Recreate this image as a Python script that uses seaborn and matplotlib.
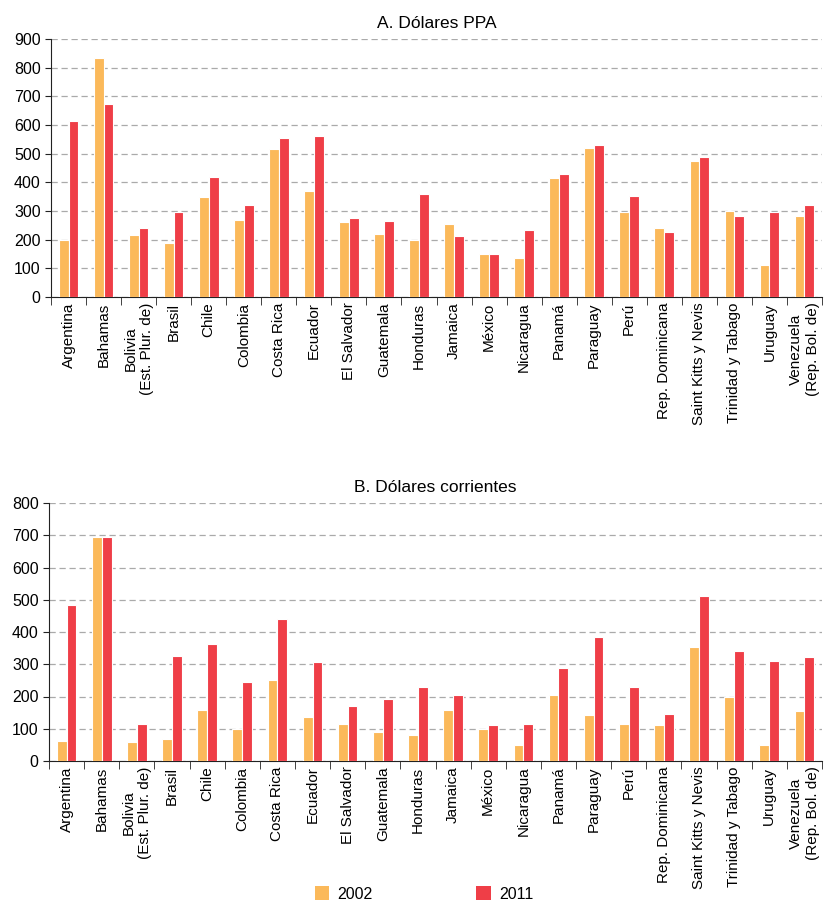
import pandas as pd
import matplotlib.pyplot as plt
import seaborn as sns
from matplotlib.patches import Patch
from matplotlib.ticker import FixedLocator

# Countries (x axis)
paises = ['Argentina', 'Bahamas', 'Bolivia\n(Est. Plur. de)', 'Brasil', 'Chile', 'Colombia',
          'Costa Rica', 'Ecuador', 'El Salvador', 'Guatemala', 'Honduras', 'Jamaica',
          'México', 'Nicaragua', 'Panamá', 'Paraguay', 'Perú', 'Rep. Dominicana',
          'Saint Kitts y Nevis', 'Trinidad y Tabago', 'Uruguay', 'Venezuela\n(Rep. Bol. de)']

# A. Dólares PPA
ppa_2002 = [200, 833, 216, 187, 350, 270, 515, 370, 260, 220, 200, 255,
            150, 135, 415, 520, 295, 240, 474, 300, 110, 284]
ppa_2011 = [614, 674, 240, 295, 420, 321, 555, 560, 275, 265, 359, 214,
            150, 235, 429, 529, 354, 226, 488, 284, 295, 321]

# B. Dólares corrientes
cor_2002 = [63, 694, 58, 67, 158, 98, 250, 136, 115, 89, 80, 158,
            98, 50, 206, 142, 115, 111, 355, 197, 50, 155]
cor_2011 = [485, 694, 115, 325, 363, 246, 441, 306, 172, 193, 228, 206,
            111, 115, 288, 384, 228, 145, 511, 341, 310, 324]

anios = ['2002', '2011']
colores = ['#FBB95A', '#EF3E47']

plt.rcParams['font.family'] = ['Liberation Sans', 'DejaVu Sans']

fig = plt.figure(figsize=(8.24, 9.07), dpi=100)
ax1 = fig.add_axes([51 / 824, 1 - 297 / 907, 771 / 824, 258 / 907])
ax2 = fig.add_axes([49 / 824, 1 - 761 / 907, 773 / 824, 258 / 907])


def panel(ax, v2002, v2011, titulo, ymax):
    df = pd.DataFrame({
        'pais': paises * 2,
        'valor': v2002 + v2011,
        'anio': ['2002'] * len(paises) + ['2011'] * len(paises),
    })
    sns.barplot(data=df, x='pais', y='valor', hue='anio', hue_order=anios,
                palette=colores, saturation=1, width=0.56, edgecolor='white',
                linewidth=0.8, legend=False, ax=ax, zorder=3)
    ax.set_xlim(-0.5, len(paises) - 0.5)
    ax.set_ylim(0, ymax)
    ax.set_yticks(range(0, ymax + 1, 100))
    ax.yaxis.grid(True, linestyle=(0, (5, 3)), color='#aaaaaa', linewidth=0.9, zorder=0)
    ax.set_axisbelow(True)
    ax.set_xlabel('')
    ax.set_ylabel('')
    ax.set_title(titulo, fontsize=12.5, pad=8)
    for s in ['top', 'right']:
        ax.spines[s].set_visible(False)
    ax.spines['left'].set_color('#222222')
    ax.spines['bottom'].set_color('#222222')
    ax.tick_params(axis='y', labelsize=11.5, length=4, color='#222222')
    ax.tick_params(axis='x', which='major', length=0, labelsize=11, pad=4)
    ax.set_xticks(range(len(paises)))
    ax.set_xticklabels(paises, rotation=90, ha='center', va='top', multialignment='center')
    ax.xaxis.set_minor_locator(FixedLocator([i - 0.5 for i in range(len(paises) + 1)]))
    ax.tick_params(axis='x', which='minor', length=6, color='#222222')


panel(ax1, ppa_2002, ppa_2011, 'A. Dólares PPA', 900)
panel(ax2, cor_2002, cor_2011, 'B. Dólares corrientes', 800)

handles = [Patch(facecolor=c, label=a) for c, a in zip(colores, anios)]
fig.legend(handles=handles, loc='center', bbox_to_anchor=(424 / 824, 1 - 894 / 907),
           ncol=2, frameon=False, fontsize=11.5, columnspacing=6.5,
           handlelength=0.9, handleheight=0.9, handletextpad=0.5)

fig.savefig('out.png', dpi=100)
